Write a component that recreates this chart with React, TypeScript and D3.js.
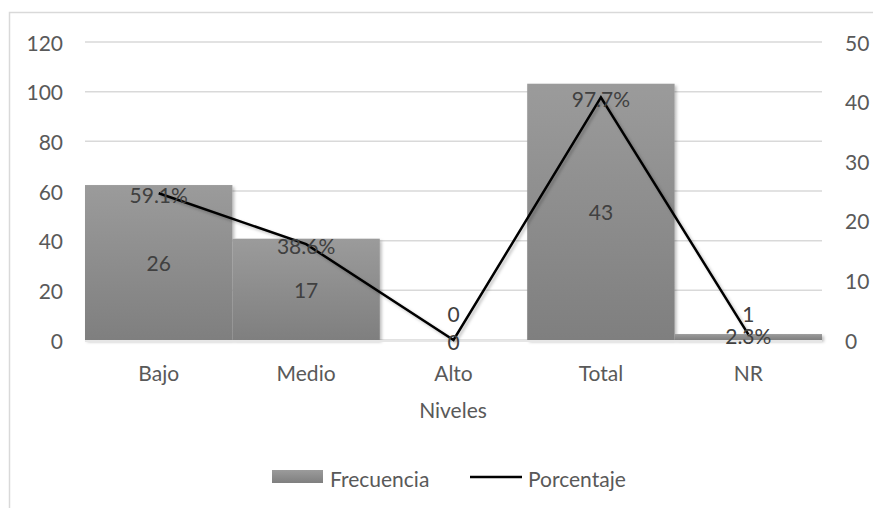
import React from "react";
import * as d3 from "d3";

// Levels and their counts / percentages
const categories = ["Bajo", "Medio", "Alto", "Total", "NR"];
const frecuencia = [26, 17, 0, 43, 1];
const porcentaje = [59.1, 38.6, 0, 97.7, 2.3];
const leftTicks = [0, 20, 40, 60, 80, 100, 120];
const rightTicks = [0, 10, 20, 30, 40, 50];

const W = 873;
const H = 508;
const FONT = "Lato, 'Open Sans', sans-serif";
const AXIS_COLOR = "#595959";
const LABEL_COLOR = "#404040";

export default function App() {
  const x = d3.scaleBand<string>().domain(categories).range([85, 822]).padding(0);
  const yLeft = d3.scaleLinear().domain([0, 120]).range([340, 42]);
  const yRight = d3.scaleLinear().domain([0, 50]).range([340, 42]);

  const line = d3
    .line<number>()
    .x((_, i) => (x(categories[i]) as number) + x.bandwidth() / 2)
    .y((d) => yLeft(d));

  const pctLabel = (v: number) => (v === 0 ? "0" : `${v.toFixed(1)}%`);
  const base = yRight(0);

  return (
    <svg
      width={W}
      height={H}
      style={{ position: "absolute", left: 0, top: 0, background: "#fff" }}
      fontFamily={FONT}
    >
      <defs>
        <linearGradient id="barGrad" x1="0" y1="0" x2="0" y2="1">
          <stop offset="0%" stopColor="#9b9b9b" />
          <stop offset="100%" stopColor="#7f7f7f" />
        </linearGradient>
        <filter id="shadow" x="-10%" y="-10%" width="130%" height="130%">
          <feDropShadow dx="2" dy="2" stdDeviation="1.5" floodColor="#000" floodOpacity="0.25" />
        </filter>
      </defs>

      {/* chart frame */}
      <rect x={9.5} y={12.5} width={900} height={520} fill="none" stroke="#d9d9d9" strokeWidth={1.5} />

      {/* gridlines */}
      {leftTicks.map((t) => (
        <line key={t} x1={85} x2={822} y1={yLeft(t)} y2={yLeft(t)} stroke="#d9d9d9" strokeWidth={1.5} />
      ))}

      {/* left axis labels */}
      {leftTicks.map((t) => (
        <text key={t} x={63} y={yLeft(t)} textAnchor="end" dominantBaseline="central" fontSize={21} fill={AXIS_COLOR}>
          {t}
        </text>
      ))}

      {/* right axis labels */}
      {rightTicks.map((t) => (
        <text key={t} x={845} y={yRight(t)} textAnchor="start" dominantBaseline="central" fontSize={21} fill={AXIS_COLOR}>
          {t}
        </text>
      ))}

      {/* bars (Frecuencia, right axis) */}
      <g filter="url(#shadow)">
        {frecuencia.map((v, i) =>
          v > 0 ? (
            <rect
              key={categories[i]}
              x={x(categories[i]) as number}
              y={yRight(v)}
              width={x.bandwidth()}
              height={base - yRight(v)}
              fill="url(#barGrad)"
            />
          ) : null
        )}
      </g>

      {/* axis baseline */}
      <line x1={85} x2={822} y1={base + 1} y2={base + 1} stroke="#e6e6e6" strokeWidth={2} />

      {/* line (Porcentaje, left axis) */}
      <path d={line(porcentaje) || ""} fill="none" stroke="#000" strokeWidth={2.5} filter="url(#shadow)" />

      {/* bar value labels */}
      {frecuencia.map((v, i) => {
        const cy = Math.min((yRight(v) + base) / 2, base - 27);
        return (
          <text
            key={categories[i]}
            x={(x(categories[i]) as number) + x.bandwidth() / 2}
            y={cy}
            textAnchor="middle"
            dominantBaseline="central"
            fontSize={21}
            fill={LABEL_COLOR}
          >
            {v}
          </text>
        );
      })}

      {/* line value labels */}
      {porcentaje.map((v, i) => (
        <text
          key={categories[i]}
          x={(x(categories[i]) as number) + x.bandwidth() / 2}
          y={yLeft(v) + 1.5}
          textAnchor="middle"
          dominantBaseline="central"
          fontSize={21}
          fill={LABEL_COLOR}
        >
          {pctLabel(v)}
        </text>
      ))}

      {/* category labels */}
      {categories.map((c) => (
        <text
          key={c}
          x={(x(c) as number) + x.bandwidth() / 2}
          y={372}
          textAnchor="middle"
          dominantBaseline="central"
          fontSize={21}
          fill={AXIS_COLOR}
        >
          {c}
        </text>
      ))}

      {/* axis title */}
      <text x={453} y={409} textAnchor="middle" dominantBaseline="central" fontSize={21} fill={AXIS_COLOR}>
        Niveles
      </text>

      {/* legend */}
      <rect x={272} y={470} width={51} height={13} fill="url(#barGrad)" />
      <text x={330} y={478} dominantBaseline="central" fontSize={21} fill={AXIS_COLOR}>
        Frecuencia
      </text>
      <line x1={470} x2={522} y1={477} y2={477} stroke="#000" strokeWidth={2.5} />
      <text x={528} y={478} dominantBaseline="central" fontSize={21} fill={AXIS_COLOR}>
        Porcentaje
      </text>
    </svg>
  );
}
